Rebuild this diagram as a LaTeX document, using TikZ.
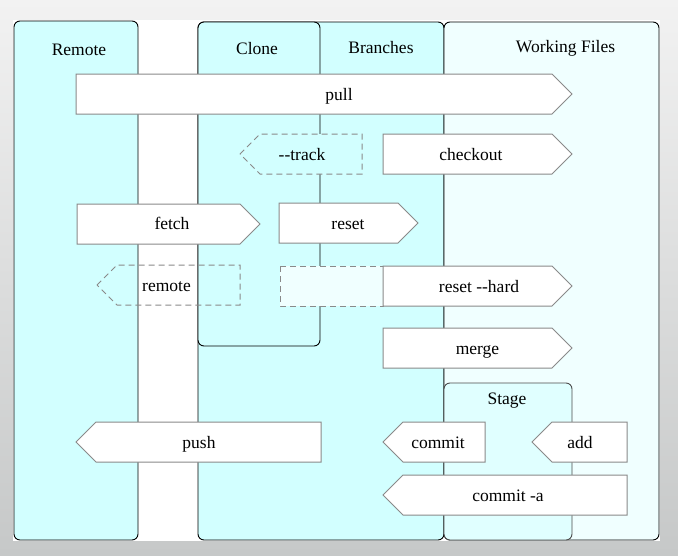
\documentclass[tikz,border=0pt]{standalone}
\usepackage{fontspec}
\setmainfont{Liberation Serif}
\definecolor{colcyan}{HTML}{D2FFFF}
\definecolor{wfcyan}{HTML}{F0FFFF}
\definecolor{stcyan}{HTML}{E0FFFF}
\definecolor{sigedge}{HTML}{8A8A8A}
\definecolor{bgtop}{HTML}{F2F2F2}
\definecolor{bgbot}{HTML}{C6C8C8}
\newcommand{\gsigR}[5][]{\draw[sig,#1] (#2,#4) -- ({#3-20},#4) -- (#3,{(#4+#5)/2}) -- ({#3-20},#5) -- (#2,#5) -- cycle;}
\newcommand{\gsigL}[5][]{\draw[sig,#1] (#2,{(#4+#5)/2}) -- ({#2+20},#4) -- (#3,#4) -- (#3,#5) -- ({#2+20},#5) -- cycle;}
\begin{document}
\begin{tikzpicture}[x=1pt,y=-1pt,
  col/.style={draw=black,line width=0.9pt,rounded corners=6pt},
  sig/.style={draw=sigedge,line width=1pt,fill=white},
  dsh/.style={dash pattern=on 6pt off 4pt,line width=1pt},
  lbl/.style={anchor=base,inner sep=0pt,font=\fontsize{17.5}{20}\selectfont},
  hdr/.style={anchor=base,inner sep=0pt,font=\fontsize{17.5}{20}\selectfont}]
\useasboundingbox (0,0) rectangle (678,555);
\shade[top color=bgtop,bottom color=bgbot] (0,0) rectangle (678,555);
\fill[white] (13,20) rectangle (660,541);
% columns
\draw[col,fill=colcyan] (198,22) rectangle (444,540);
\draw[col,fill=colcyan] (198,22) rectangle (320,346);
\draw[col,fill=colcyan] (14,21) rectangle (138,540);
\draw[col,fill=wfcyan] (444,22) rectangle (659,540);
\draw[col,draw=black!70,fill=stcyan] (444,383) rectangle (572,540);
\node[hdr] (hRemote) at (79,55) {Remote};
\node[hdr] (hClone) at (257,54.5) {Clone};
\node[hdr] (hBranches) at (381,53.5) {Branches};
\node[hdr] (hWork) at (565.5,52) {Working Files};
\node[hdr] (hStage) at (507,404.5) {Stage};
% arrows
\gsigR{76}{572}{74}{114}
\node[lbl] (pull) at (339,100) {pull};
\gsigL[dsh,fill=colcyan]{240}{362}{134}{174}
\node[lbl] (track) at (302,160) {-{}-track};
\gsigR{383}{572}{134}{174}
\node[lbl] (checkout) at (471,160) {checkout};
\gsigR{77}{260}{204}{244}
\node[lbl] (fetch) at (172,229.5) {fetch};
\gsigR{279}{418}{203}{243}
\node[lbl] (reset) at (348,229) {reset};
\gsigL[dsh,fill=none]{97}{240}{265}{305}
\node[lbl] (remote) at (166.5,291) {remote};
\draw[sig,dsh,fill=wfcyan] (280,266) rectangle (383,306);
\gsigR{383}{572}{266}{306}
\node[lbl] (resethard) at (479,292) {reset -{}-hard};
\gsigR{383}{572}{328}{368}
\node[lbl] (merge) at (477.5,354) {merge};
\gsigL{76}{321}{422}{462}
\node[lbl] (push) at (199,448) {push};
\gsigL{383}{485}{422}{462}
\node[lbl] (commit) at (438,448) {commit};
\gsigL{532}{627}{422}{462}
\node[lbl] (add) at (580,448) {add};
\gsigL{383}{627}{475}{515}
\node[lbl] (commita) at (508,501) {commit -a};
\end{tikzpicture}
\end{document}
